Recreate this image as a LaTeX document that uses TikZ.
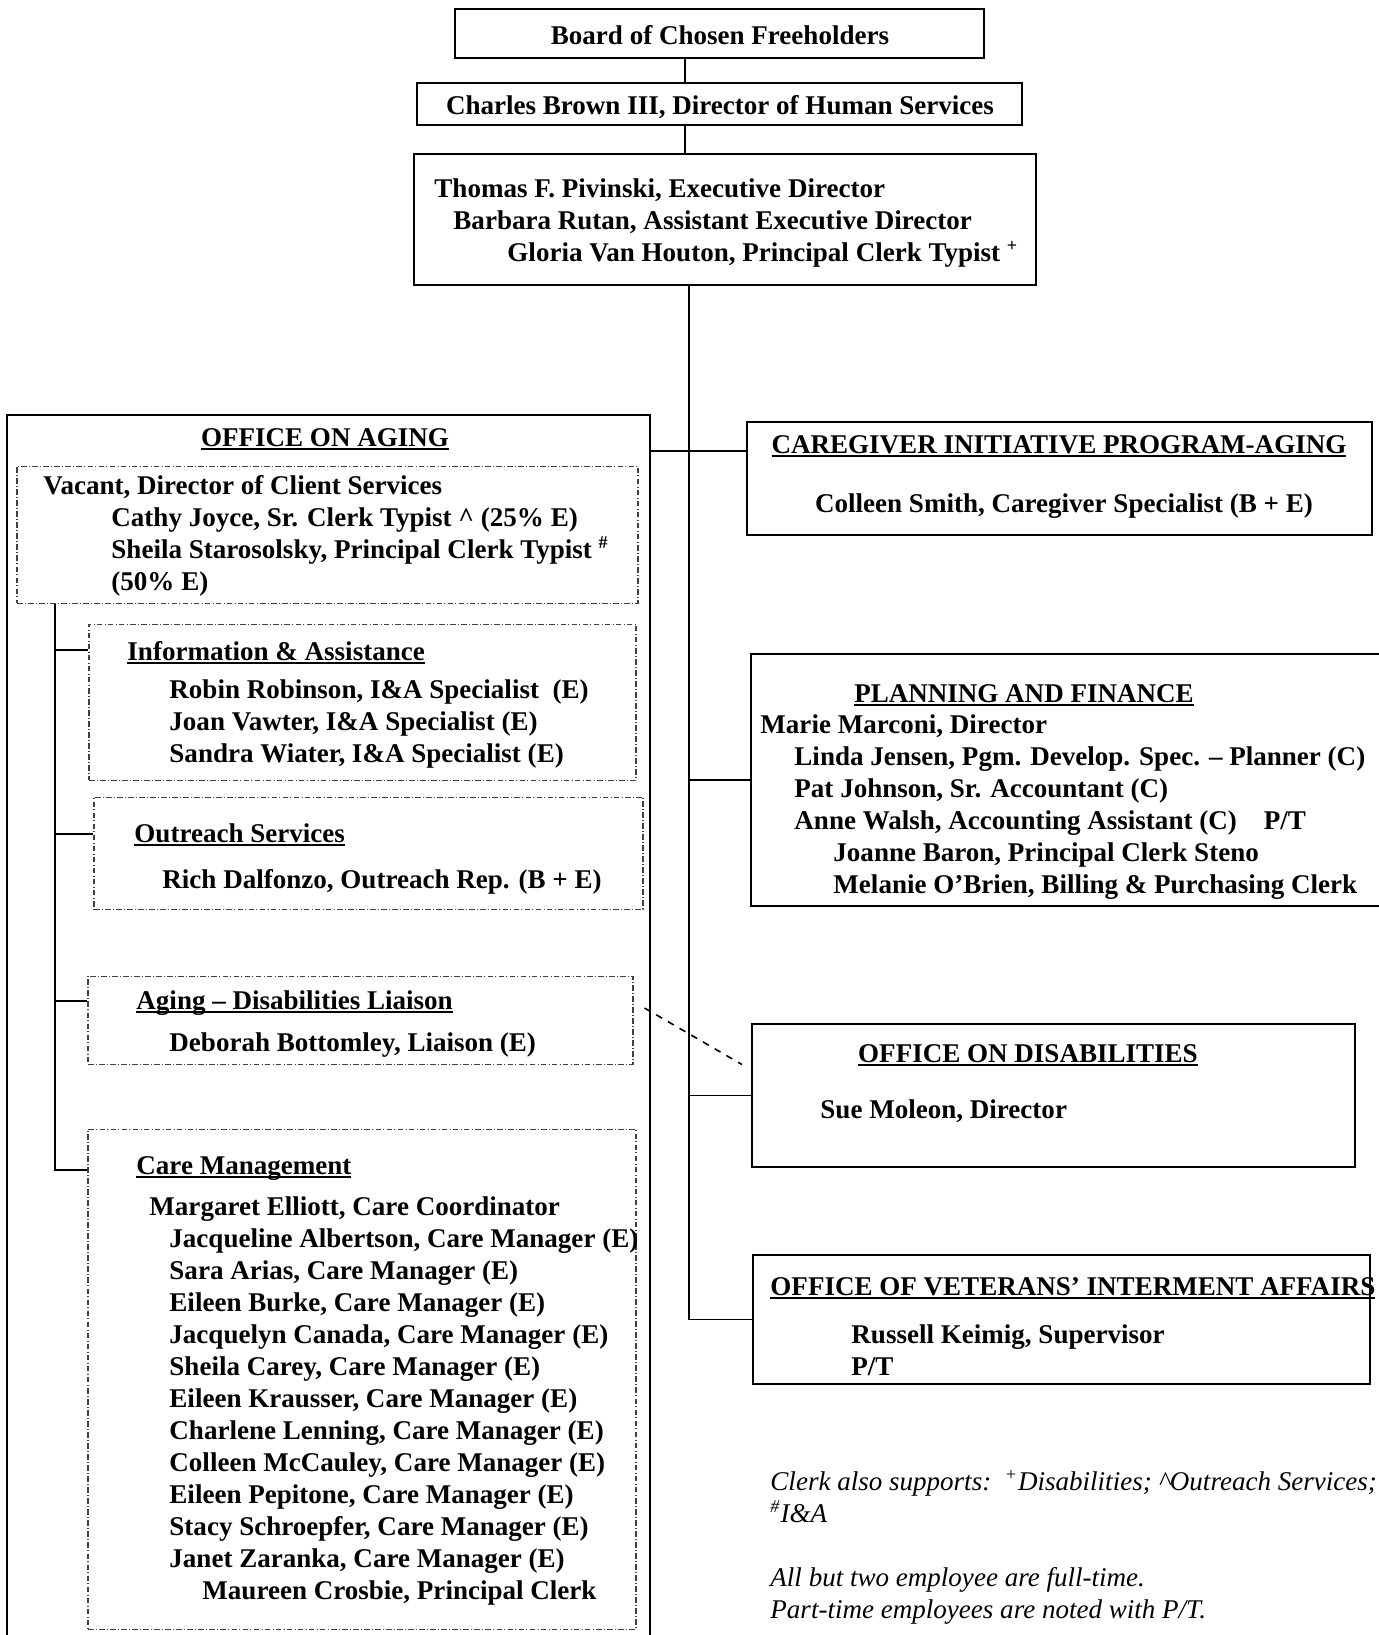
\documentclass[tikz,border=0pt]{standalone}
\usepackage{fontspec}
\setmainfont{Liberation Serif}
\usetikzlibrary{fit}

\newcommand{\ulbar}[1]{\setbox0\hbox{#1}\rlap{\rule[-1.9pt]{\wd0}{0.8pt}}\box0}

\tikzset{
	box/.style={draw, line width=0.9pt, inner sep=0pt},
	subbox/.style={draw=black!75, line width=0.45pt, dash pattern=on 2.5pt off 1pt on 0.4pt off 1pt, inner sep=0pt},
	person/.style={anchor=base west, inner sep=0pt, font=\fontsize{12pt}{14.2pt}\selectfont\bfseries},
	heading/.style={anchor=base, inner sep=0pt, font=\fontsize{12pt}{14.2pt}\selectfont\bfseries},
	note/.style={anchor=base west, inner sep=0pt, font=\fontsize{12pt}{14.2pt}\selectfont\itshape},
	wire/.style={line width=0.7pt},
}

\begin{document}
\begin{tikzpicture}[x=0.4438pt, y=-0.4438pt]
	\useasboundingbox[fill=white] (0,0) rectangle (1379,1635);

	% top of the chain
	\node[box, fit={(455,9) (984,58)}] (board) {};
	\node[heading] (boardt) at (720,44) {Board of Chosen Freeholders};
	\node[box, fit={(417,83) (1022,125)}] (brown) {};
	\node[heading] (brownt) at (720,114) {Charles Brown III, Director of Human Services};
	\node[box, fit={(414,154) (1036,285)}] (exec) {};
	\node[person] (exec1) at (434,197) {Thomas F. Pivinski, Executive Director};
	\node[person] (exec2) at (453,229) {Barbara Rutan, Assistant Executive Director};
	\node[person] (exec3) at (507,261) {Gloria Van Houton, Principal Clerk Typist \textsuperscript{+}};

	% office on aging
	\node[box, fit={(7,415) (650,1700)}] (aging) {};
	\node[heading] (agingt) at (325,446) {\ulbar{OFFICE ON AGING}};
	\node[subbox, fit={(17,466) (638,603)}] (client) {};
	\node[person] (client1) at (43,494) {Vacant, Director of Client Services};
	\node[person] (client2) at (111,526) {Cathy Joyce, Sr. Clerk Typist \textasciicircum{} (25\% E)};
	\node[person] (client3) at (111,558) {Sheila Starosolsky, Principal Clerk Typist \textsuperscript{\#}};
	\node[person] (client4) at (111,590) {(50\% E)};

	\node[subbox, fit={(89,624) (636,780)}] (info) {};
	\node[person] (infot) at (127,660) {\ulbar{Information \& Assistance}};
	\node[person] (info1) at (169,698) {Robin Robinson, I\&A Specialist\ \ (E)};
	\node[person] (info2) at (169,730) {Joan Vawter, I\&A Specialist (E)};
	\node[person] (info3) at (169,762) {Sandra Wiater, I\&A Specialist (E)};

	\node[subbox, fit={(94,797) (643,909)}] (outreach) {};
	\node[person] (outreacht) at (134,842) {\ulbar{Outreach Services}};
	\node[person] (outreach1) at (162,888) {Rich Dalfonzo, Outreach Rep. (B + E)};

	\node[subbox, fit={(88,976) (633,1064)}] (liaison) {};
	\node[person] (liaisont) at (136,1009) {\ulbar{Aging -- Disabilities Liaison}};
	\node[person] (liaison1) at (169,1051) {Deborah Bottomley, Liaison (E)};

	\node[subbox, fit={(88,1129) (636,1629)}] (care) {};
	\node[person] (caret) at (136,1174) {\ulbar{Care Management}};
	\node[person] (care0) at (149,1215) {Margaret Elliott, Care Coordinator};
	\node[person] (care1) at (169,1247) {Jacqueline Albertson, Care Manager (E)};
	\node[person] (care2) at (169,1279) {Sara Arias, Care Manager (E)};
	\node[person] (care3) at (169,1311) {Eileen Burke, Care Manager (E)};
	\node[person] (care4) at (169,1343) {Jacquelyn Canada, Care Manager (E)};
	\node[person] (care5) at (169,1375) {Sheila Carey, Care Manager (E)};
	\node[person] (care6) at (169,1407) {Eileen Krausser, Care Manager (E)};
	\node[person] (care7) at (169,1439) {Charlene Lenning, Care Manager (E)};
	\node[person] (care8) at (169,1471) {Colleen McCauley, Care Manager (E)};
	\node[person] (care9) at (169,1503) {Eileen Pepitone, Care Manager (E)};
	\node[person] (care10) at (169,1535) {Stacy Schroepfer, Care Manager (E)};
	\node[person] (care11) at (169,1567) {Janet Zaranka, Care Manager (E)};
	\node[person] (care12) at (202,1599) {Maureen Crosbie, Principal Clerk};

	% right hand column
	\node[box, fit={(747,422) (1372,535)}] (caregiver) {};
	\node[heading] (caregivert) at (1059,453) {\ulbar{CAREGIVER INITIATIVE PROGRAM-AGING}};
	\node[heading] (caregiver1) at (1064,512) {Colleen Smith, Caregiver Specialist (B + E)};

	\node[box, fit={(751,654) (1395,906)}] (planning) {};
	\node[heading] (planningt) at (1024,702) {\ulbar{PLANNING AND FINANCE}};
	\node[person] (planning1) at (760,733) {Marie Marconi, Director};
	\node[person] (planning2) at (794,765) {Linda Jensen, Pgm. Develop. Spec. -- Planner (C)};
	\node[person] (planning3) at (794,797) {Pat Johnson, Sr. Accountant (C)};
	\node[person] (planning4) at (794,829) {Anne Walsh, Accounting Assistant (C)\hspace{12pt}P/T};
	\node[person] (planning5) at (833,861) {Joanne Baron, Principal Clerk Steno};
	\node[person] (planning6) at (833,893) {Melanie O’Brien, Billing \& Purchasing Clerk};

	\node[box, fit={(752,1024) (1355,1167)}] (disab) {};
	\node[heading] (disabt) at (1028,1062) {\ulbar{OFFICE ON DISABILITIES}};
	\node[person] (disab1) at (820,1118) {Sue Moleon, Director};

	\node[box, fit={(753,1255) (1370,1384)}] (vet) {};
	\node[person] (vett) at (770,1295) {\ulbar{OFFICE OF VETERANS’ INTERMENT AFFAIRS}};
	\node[person] (vet1) at (851,1343) {Russell Keimig, Supervisor};
	\node[person] (vet2) at (851,1375) {P/T};

	\node[note] (note1) at (770,1490) {Clerk also supports:\ \ \textsuperscript{+}Disabilities; \textasciicircum Outreach Services;};
	\node[note] (note2) at (770,1522) {\textsuperscript{\#}I\&A};
	\node[note] (note3) at (770,1586) {All but two employee are full-time.};
	\node[note] (note4) at (770,1618) {Part-time employees are noted with P/T.};

	% connectors
	\coordinate (top) at (685,0);
	\coordinate (spine) at (689,0);
	\coordinate (cgrow) at (700,451);
	\coordinate (ia) at (55,650);
	\coordinate (os) at (55,834);
	\coordinate (dl) at (55,1001);
	\coordinate (cm) at (55,1170);
	\draw[wire] (board.south -| top) -- (brown.north -| top);
	\draw[wire] (brown.south -| top) -- (exec.north -| top);
	\draw[wire] (exec.south -| spine) |- (vet.west);
	\draw[wire] (aging.east |- cgrow) -- (caregiver.west |- cgrow);
	\draw[wire] (planning.west -| spine) -- (planning.west);
	\draw[wire] (disab.west -| spine) -- (disab.west);
	\draw[wire, dashed] ([shift={(11,-12)}]liaison.east) -- ([shift={(-9,-31)}]disab.west);
	\draw[wire] (client.south -| cm) -- (cm) -- (cm -| care.west);
	\draw[wire] (ia) -- (ia -| info.west);
	\draw[wire] (os) -- (os -| outreach.west);
	\draw[wire] (dl) -- (dl -| liaison.west);
\end{tikzpicture}
\end{document}
